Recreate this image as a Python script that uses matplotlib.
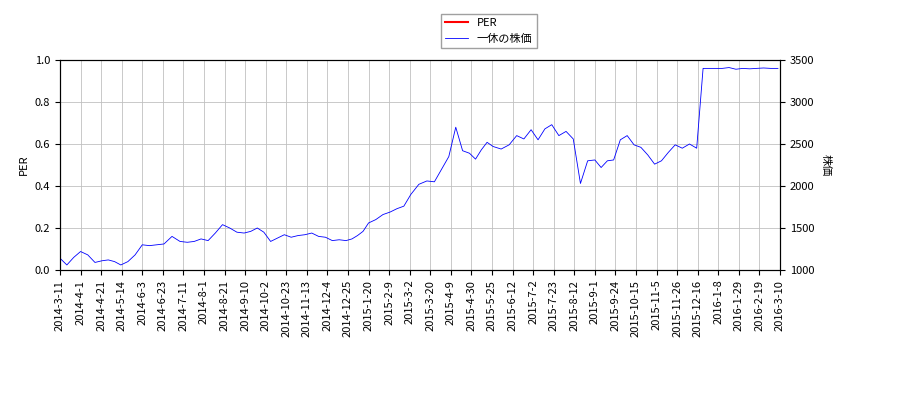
import matplotlib
matplotlib.use("Agg")
import matplotlib.pyplot as plt
import numpy as np
import pandas as pd

plt.rcParams["font.family"] = ["Noto Sans CJK JP", "DejaVu Sans"]
plt.rcParams["font.size"] = 8

# weekly closing prices
dates = pd.date_range("2014-03-11", periods=105, freq="7D")
price = [1140, 1060, 1150, 1220, 1180, 1090, 1110, 1120, 1100, 1060,
         1100, 1180, 1300, 1290, 1300, 1310, 1400, 1340, 1330, 1340,
         1370, 1350, 1440, 1540, 1500, 1450, 1440, 1460, 1500, 1450,
         1340, 1380, 1420, 1390, 1410, 1420, 1440, 1400, 1390, 1350,
         1360, 1350, 1370, 1410, 1460, 1560, 1600, 1660, 1690, 1730,
         1760, 1900, 2020, 2060, 2050, 2200, 2350, 2700, 2420, 2390,
         2320, 2430, 2520, 2470, 2440, 2490, 2600, 2560, 2670, 2550,
         2680, 2730, 2600, 2650, 2560, 2030, 2300, 2310, 2220, 2300,
         2310, 2550, 2600, 2490, 2460, 2370, 2260, 2300, 2400, 2490,
         2450, 2500, 2450, 3400, 3400, 3400, 3400, 3410, 3390, 3400,
         3395, 3400, 3405, 3400, 3400]
tick_labels = ["2014-3-11", "2014-4-1", "2014-4-21", "2014-5-14", "2014-6-3",
               "2014-6-23", "2014-7-11", "2014-8-1", "2014-8-21", "2014-9-10",
               "2014-10-2", "2014-10-23", "2014-11-13", "2014-12-4", "2014-12-25",
               "2015-1-20", "2015-2-9", "2015-3-2", "2015-3-20", "2015-4-9",
               "2015-4-30", "2015-5-25", "2015-6-12", "2015-7-2", "2015-7-23",
               "2015-8-12", "2015-9-1", "2015-9-24", "2015-10-15", "2015-11-5",
               "2015-11-26", "2015-12-16", "2016-1-8", "2016-1-29", "2016-2-19",
               "2016-3-10"]
ticks = pd.to_datetime(tick_labels)

# trading-day axis: ticks are evenly spaced (every 14 sessions)
tick_pos = np.arange(len(ticks)) * 14
x = np.interp(dates.asi8, ticks.asi8, tick_pos)

fig = plt.figure(figsize=(9, 4), dpi=100)
ax = fig.add_axes([60 / 900, 130 / 400, 720 / 900, 210 / 400])
ax2 = ax.twinx()

l1, = ax.plot([], [], color="red", lw=1.5, label="PER")
l2, = ax2.plot(x, price, color="blue", lw=0.6, label="一休の株価")

ax.set_xlim(tick_pos[0], tick_pos[-1])
ax.set_ylim(0, 1)
ax2.set_ylim(1000, 3500)
ax.set_xticks(tick_pos)
ax.set_xticklabels(tick_labels, rotation=90)
ax.grid(True, color="#c0c0c0", lw=0.6)
ax.set_ylabel("PER")
ax2.set_ylabel("株価", rotation=270, labelpad=12)

fig.legend(handles=[l1, l2], loc="upper center", bbox_to_anchor=(0.543, 0.98),
           fancybox=False, edgecolor="#888888")

fig.savefig("out.png", dpi=100)
